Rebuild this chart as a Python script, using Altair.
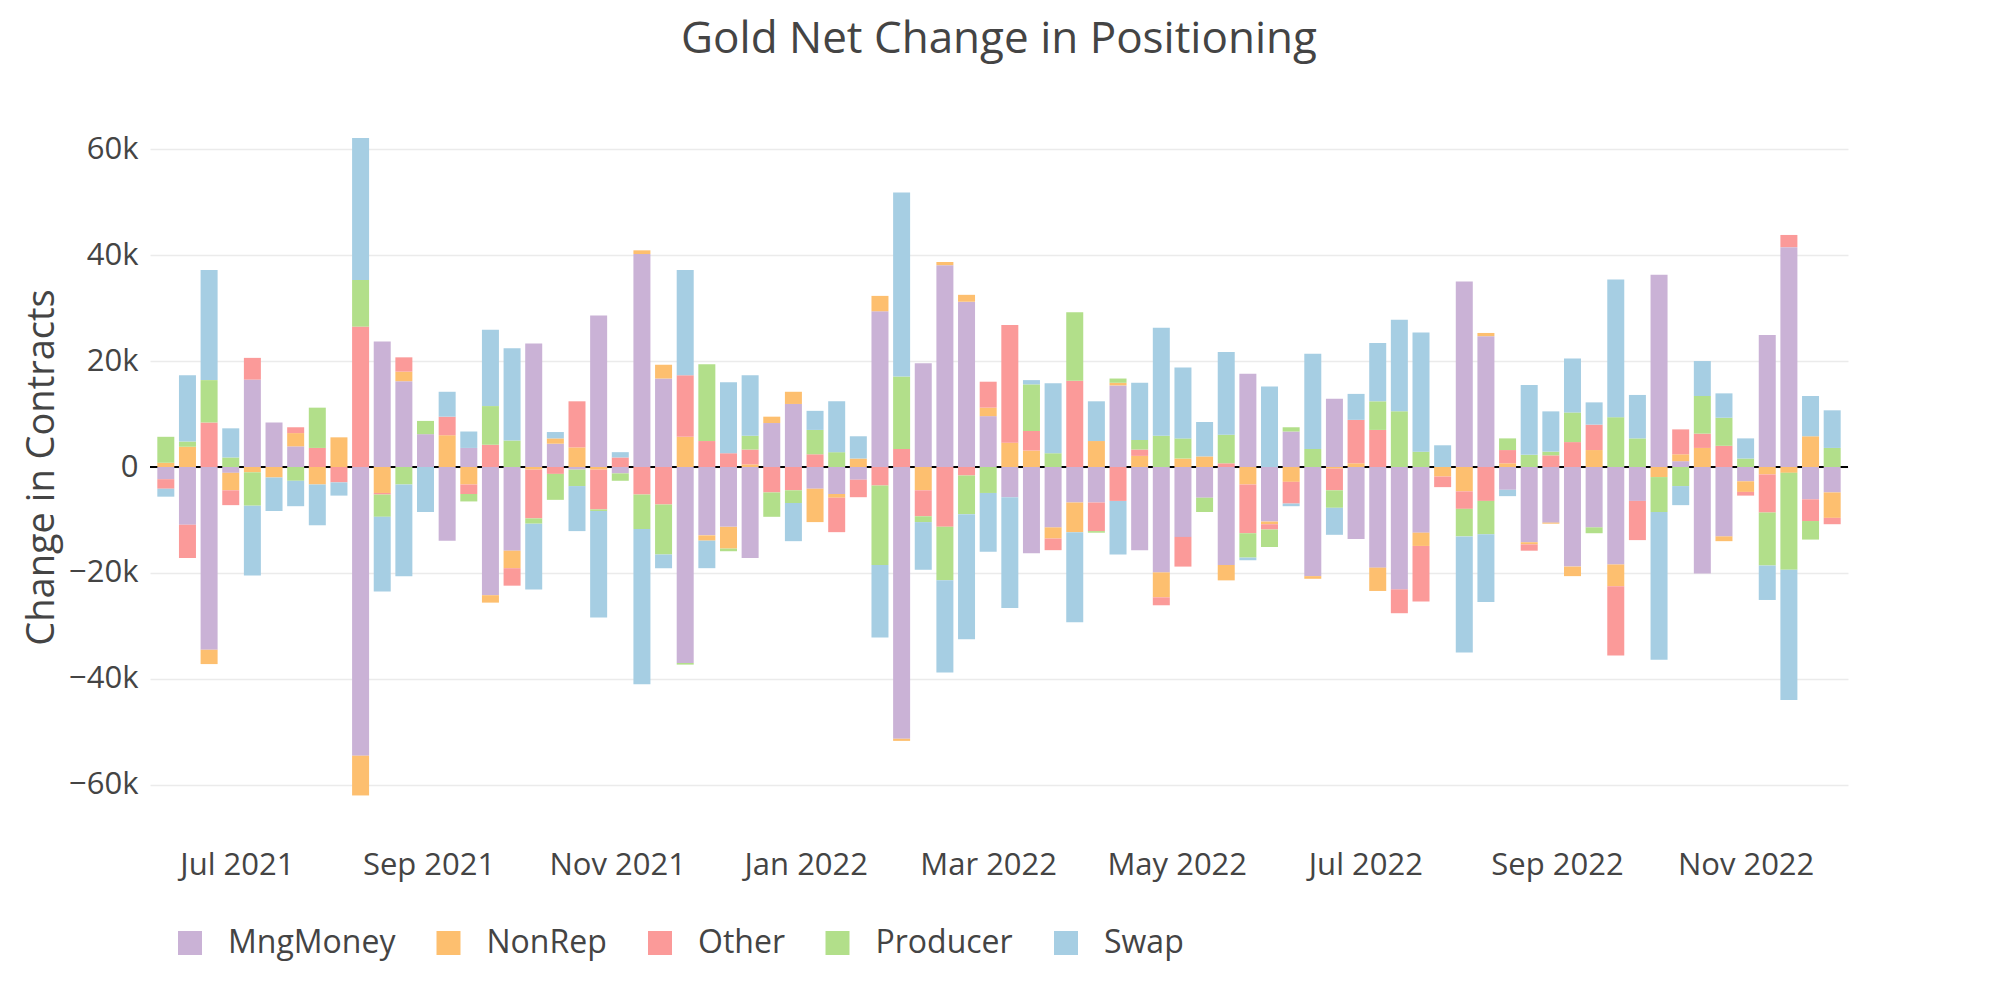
import altair as alt
import pandas as pd

# Weekly COT report dates (Tuesdays)
start_date = "2021-06-08"
n_weeks = 78

series_names = ["MngMoney", "NonRep", "Other", "Producer", "Swap"]
series_colors = ["#cab2d6", "#fdbf6f", "#fb9a99", "#b2df8a", "#a6cee3"]

# values in thousands of contracts
mng = [-2.3, -10.9, -34.5, -1.1, 16.5, 8.4, 3.9, 0, 0, -54.5,
       23.7, 16.2, 6.2, -13.9, 3.6, -24.2, -15.8, 23.3, 4.4, -0.5,
       28.6, -1.2, 40.2, 16.7, -37.0, -12.9, -11.3, -17.2, 8.3, 11.9,
       -4.1, -5.1, -2.4, 29.4, -51.3, 19.6, 38.1, 31.2, 9.6, -5.7,
       -16.3, -11.4, -6.7, -6.7, 15.4, -15.7, -19.9, -13.2, -5.8, -18.5,
       17.6, -10.3, 6.7, -20.6, 12.9, -13.6, -19.0, -23.1, -12.4, 0,
       35.0, 24.7, -4.3, -14.2, -10.5, -18.8, -11.4, -18.4, -6.4, 36.3,
       1.1, -20.1, -13.1, -2.7, 24.9, 41.5, -6.1, -4.8]

nonrep = [0.8, 3.8, -2.7, -3.3, -1.0, -2.0, 2.5, -3.3, 5.6, -7.5,
          -4.9, 1.8, 0, 6.0, -3.3, -1.4, -3.3, -0.5, 1.0, 3.7,
          -0.5, 0, 0.7, 2.6, 5.7, -1.0, -4.1, 0.5, 1.2, 2.3,
          -6.3, -0.7, 1.6, 2.9, -0.4, -4.4, 0.6, 1.3, 1.6, 4.6,
          3.1, -2.1, -5.6, 4.9, 0.5, 2.1, -4.7, 1.6, 2.0, -2.9,
          -3.3, -0.5, -2.8, -0.5, -0.3, 0.7, -4.4, 0, -2.5, -1.8,
          -4.6, 0.6, 0.7, -0.4, -0.2, -1.8, 3.2, -4.1, 0, -1.9,
          1.3, 3.6, -0.9, -2.0, -1.4, -1.1, 5.8, -4.8]

other = [-1.8, -6.3, 8.4, -2.8, 4.1, 0, 1.1, 3.6, -2.9, 26.5,
         -0.3, 2.7, 0, 3.5, -1.8, 4.2, -3.3, -9.2, -1.3, 8.7,
         -7.5, 1.8, -5.2, -7.1, 11.6, 4.9, 2.6, 2.8, -4.8, -4.4,
         2.4, -6.5, -3.3, -3.5, 3.4, -4.9, -11.3, -1.6, 4.9, 22.2,
         3.7, -2.2, 16.3, -5.4, -6.4, 1.2, -1.5, -5.6, 0, 0.7,
         -9.2, -1.0, -4.1, 0, -4.1, 8.2, 7.0, -4.5, -10.5, -2.0,
         -3.3, -6.4, 2.5, -1.2, 2.2, 4.7, 4.8, -13.1, -7.4, 0,
         4.7, 2.7, 4.0, -0.7, -7.2, 2.3, -4.1, -1.2]

producer = [4.9, 1.0, 8.0, 1.8, -6.3, 0, -2.6, 7.6, 0, 8.8,
            -4.2, -3.3, 2.5, 0, -1.4, 7.3, 5.0, -1.0, -4.9, -3.1,
            -0.3, -1.4, -6.5, -9.4, -0.3, 14.5, -0.5, 2.6, -4.6, -2.4,
            4.6, 2.8, 0, -15.0, 13.7, -1.1, -10.1, -7.3, -4.9, 0,
            8.8, 2.6, 12.9, -0.3, 0.8, 1.8, 5.9, 3.8, -2.7, 5.4,
            -4.6, -3.3, 0.8, 3.4, -3.3, 0, 5.4, 10.5, 2.9, 0,
            -5.2, -6.3, 2.2, 2.3, 0.7, 5.6, -1.1, 9.4, 5.4, -6.6,
            -3.6, 7.1, 5.3, 1.6, -10.0, -18.3, -3.5, 3.6]

swap = [-1.5, 12.5, 20.8, 5.5, -13.2, -6.3, -4.8, -7.7, -2.5, 26.8,
        -14.1, -17.3, -8.5, 4.7, 3.1, 14.4, 17.4, -12.4, 1.2, -8.5,
        -20.1, 1.0, -29.3, -2.6, 19.9, -5.2, 13.4, 11.4, 0, -7.2,
        3.6, 9.6, 4.2, -13.7, 34.7, -9.0, -17.4, -23.6, -11.1, -20.9,
        0.8, 13.2, -17.0, 7.5, -10.1, 10.8, 20.4, 13.4, 6.5, 15.6,
        -0.5, 15.2, -0.5, 18.0, -5.1, 4.9, 11.0, 17.3, 22.5, 4.1,
        -21.9, -12.8, -1.2, 13.2, 7.6, 10.2, 4.2, 26.0, 8.2, -27.9,
        -3.6, 6.6, 4.6, 3.8, -6.5, -24.6, 7.6, 7.1]

y_ticks = [-60000, -40000, -20000, 0, 20000, 40000, 60000]

dates = pd.date_range(start_date, periods=n_weeks, freq="7D")
all_series = [mng, nonrep, other, producer, swap]
rows = []
for i, d in enumerate(dates):
    for k, (name, arr) in enumerate(zip(series_names, all_series)):
        rows.append({"date": d.strftime("%Y-%m-%d"), "series": name,
                     "order": k, "value": arr[i] * 1000})
df = pd.DataFrame(rows)

FONT = "Open Sans"
TXT = "#444444"

x_tick_dates = [alt.DateTime(year=y, month=m, date=1, utc=True)
                for (y, m) in [(2021, 7), (2021, 9), (2021, 11), (2022, 1), (2022, 3),
                               (2022, 5), (2022, 7), (2022, 9), (2022, 11)]]

x_enc = alt.X(
    "date:T",
    scale=alt.Scale(type="utc", domain=[
        alt.DateTime(year=2021, month=6, date=4, hours=12, utc=True),
        alt.DateTime(year=2022, month=12, date=2, hours=12, utc=True)]),
    axis=alt.Axis(values=x_tick_dates, format="%b %Y", grid=False, labelPadding=36,
                  labelFontSize=31),
    title=None,
)

y_scale = alt.Scale(domain=[-65500, 65500], nice=False, zero=True)

zero_line = alt.Chart(df).mark_rule(color="#000000", strokeWidth=2).encode(
    y=alt.datum(0, scale=y_scale)
)

bars = alt.Chart(df).mark_bar(width=17).encode(
    x=x_enc,
    y=alt.Y("value:Q", stack="zero", scale=y_scale,
            axis=alt.Axis(values=y_ticks, format="~s",
                          labelExpr="datum.value == 0 ? '0' : datum.label",
                          grid=True, gridColor="#ebebeb",
                          gridWidth=1.5, labelPadding=12, labelFontSize=31,
                          titleFontSize=38, titleFontWeight="normal",
                          titleX=-108, titleY=347, titleBaseline="middle"),
            title="Change in Contracts"),
    color=alt.Color("series:N",
                    scale=alt.Scale(domain=series_names, range=series_colors),
                    legend=alt.Legend(orient="none", legendX=24, legendY=807,
                                      direction="horizontal", columns=5, title=None,
                                      symbolType="square", symbolSize=576,
                                      symbolStrokeWidth=0, symbolOpacity=1,
                                      labelFontSize=32, labelFont=FONT,
                                      labelColor=TXT, labelOffset=22,
                                      labelLimit=400, columnPadding=36.5,
                                      padding=0)),
    order=alt.Order("order:Q", sort="ascending"),
)

chart = alt.layer(zero_line, bars).properties(
    width=1698,
    height=694,
    title=alt.TitleParams("Gold Net Change in Positioning", fontSize=44, font=FONT,
                          fontWeight="normal", color=TXT, anchor="middle",
                          frame="group", offset=58),
    autosize=alt.AutoSizeParams(type="none"),
    padding={"left": 142, "top": 112, "right": 143, "bottom": 178},
).configure_view(stroke=None).configure_axis(
    labelFont=FONT, titleFont=FONT, labelColor=TXT, titleColor=TXT,
    domain=False, ticks=False,
)

chart.save("out.html", embed_options={"renderer": "svg", "actions": False})
